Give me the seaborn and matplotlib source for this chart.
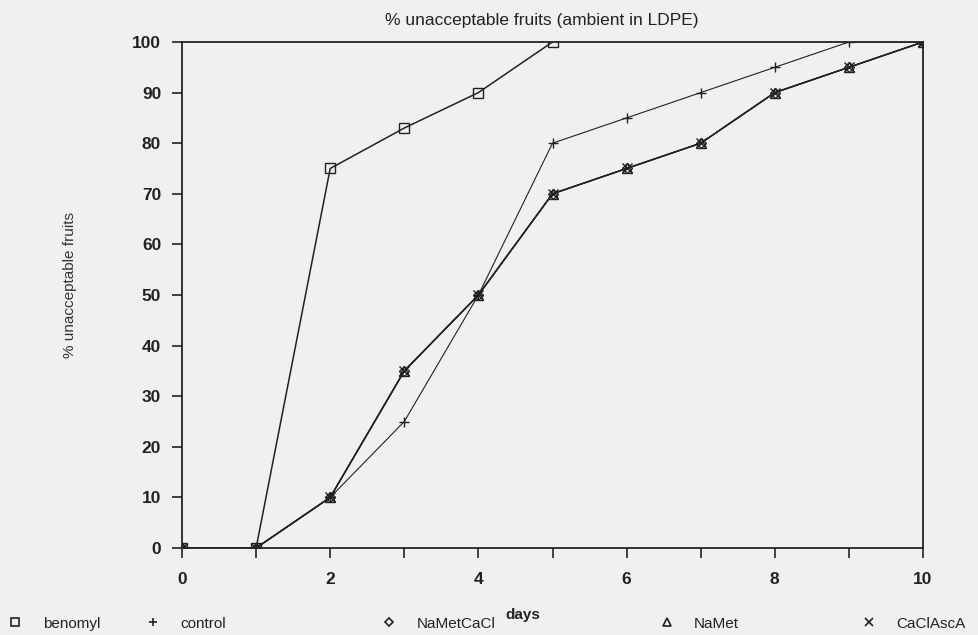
import matplotlib
matplotlib.use("Agg")
import matplotlib.pyplot as plt
from matplotlib.lines import Line2D
from matplotlib.ticker import MultipleLocator
import seaborn as sns
import pandas as pd

# ---- data ----
treatments = ["benomyl", "control", "NaMetCaCl", "NaMet", "CaClAscA"]
days_benomyl = [0, 1, 2, 3, 4, 5]
benomyl = [0, 0, 75, 83, 90, 100]
days_all = [0, 1, 2, 3, 4, 5, 6, 7, 8, 9, 10]
control = [0, 0, 10, 25, 50, 80, 85, 90, 95, 100, 100]
nametcacl = [0, 0, 10, 35, 50, 70, 75, 80, 90, 95, 100]
namet = [0, 0, 10, 35, 50, 70, 75, 80, 90, 95, 100]
caclasca = [0, 0, 10, 35, 50, 70, 75, 80, 90, 95, 100]
y_ticks = [0, 10, 20, 30, 40, 50, 60, 70, 80, 90, 100]
x_ticks = [0, 2, 4, 6, 8, 10]

rows = []
for d, v in zip(days_benomyl, benomyl):
    rows.append(("benomyl", d, v))
for name, vals in [("control", control), ("NaMetCaCl", nametcacl),
                   ("NaMet", namet), ("CaClAscA", caclasca)]:
    for d, v in zip(days_all, vals):
        rows.append((name, d, v))
df = pd.DataFrame(rows, columns=["treatment", "days", "pct"])

sns.set_theme(style="ticks")
plt.rcParams["font.family"] = ["Liberation Sans", "DejaVu Sans"]

bg = "#f0f0f0"
fig = plt.figure(figsize=(9.79, 6.35), dpi=100, facecolor=bg)
ax = fig.add_axes([182/979, 1-548/635, (923-182)/979, (548-42)/635])
ax.set_facecolor(bg)

mk = {"benomyl": "s", "control": "+", "NaMetCaCl": "D", "NaMet": "^", "CaClAscA": "x"}
widths = {"benomyl": 1.1, "control": 0.8, "NaMetCaCl": 1.0, "NaMet": 1.0, "CaClAscA": 1.0}
for t in treatments:
    sub = df[df.treatment == t]
    sns.lineplot(data=sub, x="days", y="pct", ax=ax, color="#222222",
                 lw=widths[t], marker=mk[t], markersize=7 if t != "NaMetCaCl" else 5,
                 markerfacecolor="none", markeredgecolor="#222222",
                 markeredgewidth=1.0, legend=False)

ax.set_xlim(0, 10)
ax.set_ylim(0, 100)
ax.set_yticks(y_ticks)
ax.set_xticks(x_ticks)
ax.xaxis.set_minor_locator(MultipleLocator(1))
for s in ax.spines.values():
    s.set_color("#222222")
    s.set_linewidth(1.3)
ax.tick_params(axis="both", which="both", direction="out", length=7, width=1.2,
               color="#222222", labelsize=12.5, labelcolor="#222222")
ax.tick_params(axis="y", pad=8)
ax.tick_params(axis="x", pad=10)
for lab in ax.get_xticklabels() + ax.get_yticklabels():
    lab.set_fontweight("bold")

ax.set_title("% unacceptable fruits (ambient in LDPE)", fontsize=12.5,
             color="#222222", pad=12, x=0.485)
ax.set_ylabel("% unacceptable fruits", fontsize=11, color="#333333")
ax.yaxis.set_label_coords(-0.142, 0.52)
ax.set_xlabel("days", fontsize=11, fontweight="bold", color="#222222")
ax.xaxis.set_label_coords(0.46, -0.118)

# legend: five separate entries spread along the bottom
leg_x = [0.008, 0.148, 0.390, 0.673, 0.880]
leg_mk = ["s", "+", "D", "^", "x"]
for t, x, m in zip(treatments, leg_x, leg_mk):
    h = Line2D([], [], ls="none", marker=m, color="#222222", markerfacecolor="none",
               markersize=6 if m != "D" else 4.5, markeredgewidth=1.2)
    fig.legend([h], [t], loc="center left", bbox_to_anchor=(x, 0.018),
               frameon=False, fontsize=11, handlelength=1.0, handletextpad=1.3,
               borderpad=0, borderaxespad=0, labelcolor="#222222")

fig.savefig("out.png", dpi=100, facecolor=bg)
